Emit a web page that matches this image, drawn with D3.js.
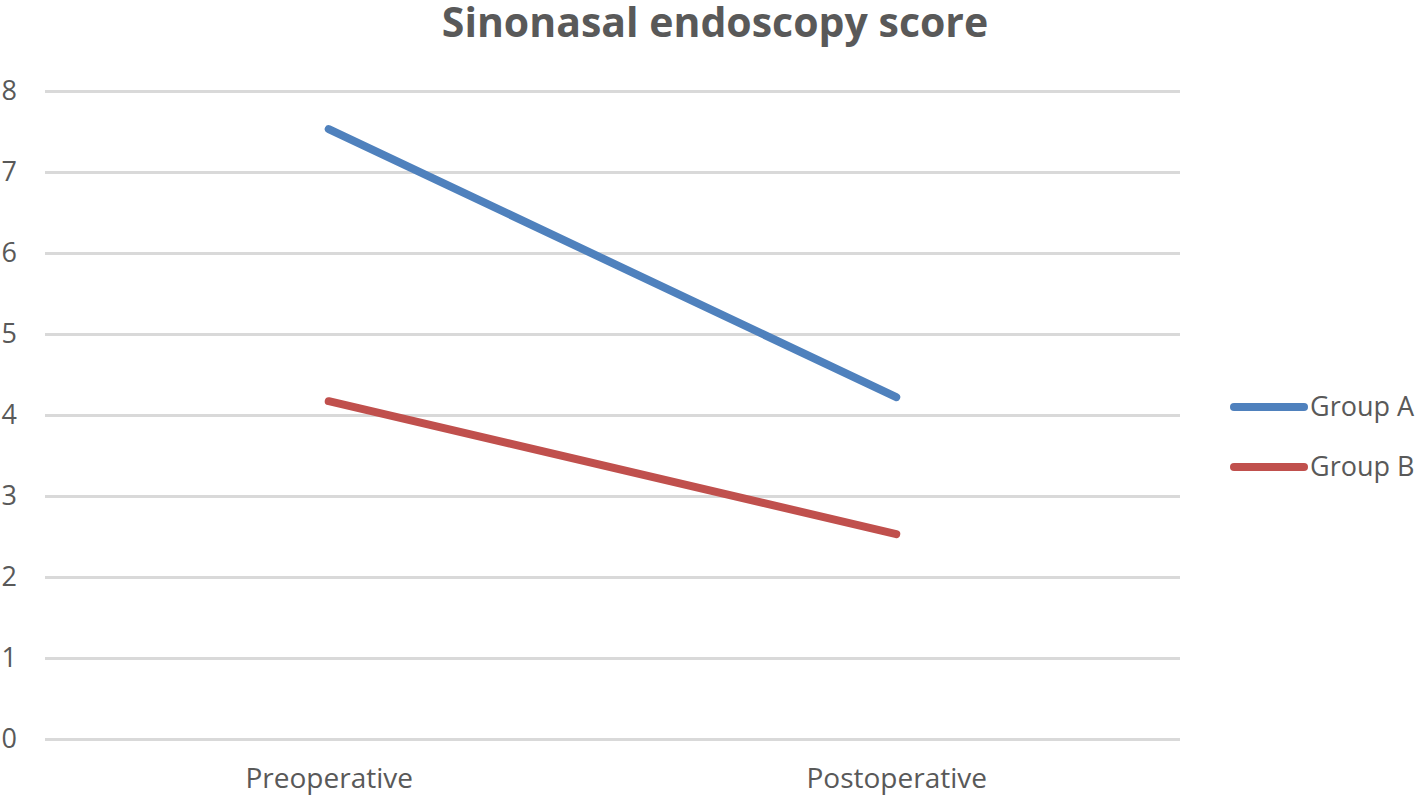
<!DOCTYPE html>
<html><head><meta charset="utf-8">
<script src="https://cdn.jsdelivr.net/npm/d3@7"></script>
<style>body{margin:0;background:#fff;} svg{display:block;font-family:"Open Sans",sans-serif;}</style>
</head><body>
<svg id="c" width="1417" height="796"></svg>
<script>
const categories = ["Preoperative", "Postoperative"];
const seriesNames = ["Group A", "Group B"];
const groupA = [7.53, 4.22];
const groupB = [4.17, 2.53];
const yTicks = [0,1,2,3,4,5,6,7,8];
const colors = ["#4f81bd", "#c0504d"];

const svg = d3.select("#c");
const mLeft = 45, mRight = 1180, mTop = 91, mBottom = 739;
const x = d3.scalePoint().domain(categories).range([mLeft, mRight]).padding(0.5);
const y = d3.scaleLinear().domain([0, 8]).range([mBottom, mTop]);

svg.append("text").attr("x", 715).attr("y", 37).attr("text-anchor","middle")
  .attr("font-size", 41).attr("font-weight","bold").attr("fill","#595959").text("Sinonasal endoscopy score");

const gy = svg.append("g").attr("transform", `translate(${mLeft},0)`)
  .call(d3.axisLeft(y).tickValues(yTicks).tickSize(-(mRight-mLeft)).tickPadding(28));
gy.select(".domain").remove();
gy.selectAll(".tick line").attr("stroke","#d9d9d9").attr("stroke-width",3);
gy.selectAll(".tick text").attr("font-size",27).attr("fill","#595959").attr("font-family","Open Sans");

const gx = svg.append("g").attr("transform", `translate(0,${mBottom})`)
  .call(d3.axisBottom(x).tickSize(0).tickPadding(29));
gx.select(".domain").remove();
gx.selectAll(".tick text").attr("font-size",28).attr("fill","#595959").attr("font-family","Open Sans");

const data = [groupA, groupB];
const line = d3.line().x((d,i)=>x(categories[i])).y(d=>y(d));
data.forEach((s,k)=>{
  svg.append("path").datum(s).attr("d", line).attr("fill","none")
    .attr("stroke", colors[k]).attr("stroke-width", 8).attr("stroke-linecap","round");
});

const leg = svg.append("g");
seriesNames.forEach((n,k)=>{
  const ly = 407 + k*60;
  leg.append("line").attr("x1",1234).attr("x2",1304).attr("y1",ly).attr("y2",ly)
    .attr("stroke",colors[k]).attr("stroke-width",8).attr("stroke-linecap","round");
  leg.append("text").attr("x",1310).attr("y",ly).attr("dy","0.35em")
    .attr("font-size",27).attr("fill","#595959").text(n);
});
</script>
</body></html>
